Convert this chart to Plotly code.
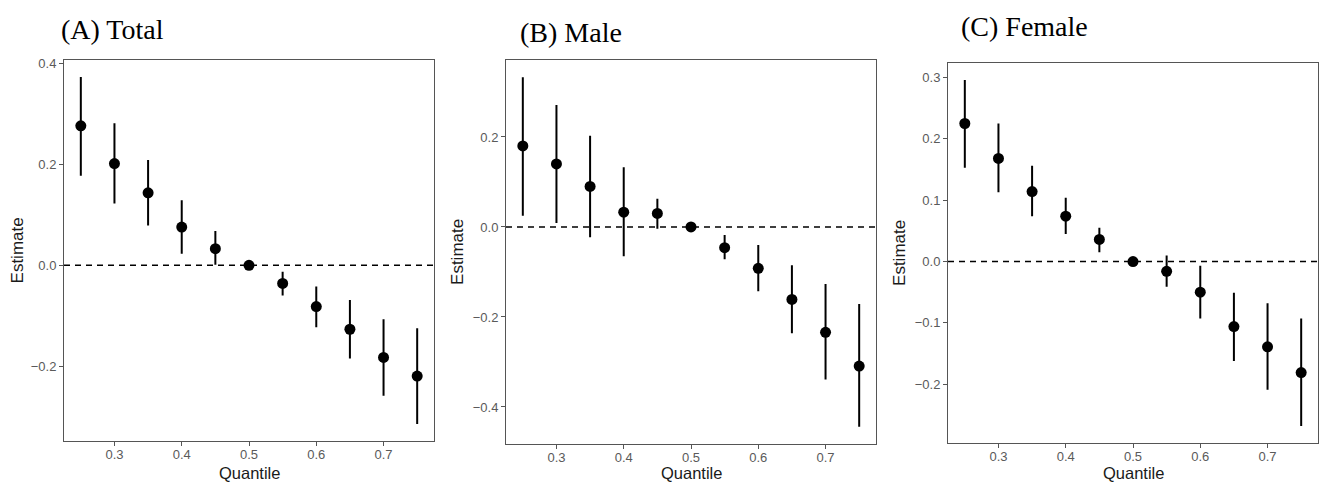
import plotly.graph_objects as go

quantiles = [0.25, 0.30, 0.35, 0.40, 0.45, 0.50, 0.55, 0.60, 0.65, 0.70, 0.75]

total_est = [0.277, 0.202, 0.144, 0.076, 0.033, 0.0, -0.036, -0.082, -0.127, -0.183, -0.220]
total_hi = [0.374, 0.282, 0.209, 0.129, 0.068, 0.0, -0.013, -0.042, -0.069, -0.107, -0.125]
total_lo = [0.178, 0.123, 0.079, 0.023, 0.001, 0.0, -0.060, -0.123, -0.185, -0.259, -0.315]

male_est = [0.180, 0.140, 0.090, 0.033, 0.030, 0.0, -0.046, -0.092, -0.161, -0.234, -0.309]
male_hi = [0.333, 0.271, 0.203, 0.133, 0.063, 0.0, -0.018, -0.040, -0.085, -0.127, -0.171]
male_lo = [0.025, 0.009, -0.023, -0.065, -0.004, 0.0, -0.072, -0.143, -0.236, -0.339, -0.444]

female_est = [0.225, 0.168, 0.114, 0.074, 0.036, 0.0, -0.016, -0.050, -0.106, -0.139, -0.181]
female_hi = [0.296, 0.225, 0.156, 0.104, 0.055, 0.0, 0.010, -0.007, -0.051, -0.068, -0.093]
female_lo = [0.153, 0.113, 0.074, 0.045, 0.015, 0.0, -0.041, -0.093, -0.162, -0.209, -0.268]

titles = ["(A) Total", "(B) Male", "(C) Female"]
y_ticks = [[-0.2, 0.0, 0.2, 0.4], [-0.4, -0.2, 0.0, 0.2], [-0.2, -0.1, 0.0, 0.1, 0.2, 0.3]]
x_ticks = [0.3, 0.4, 0.5, 0.6, 0.7]

panels = [
    (total_est, total_hi, total_lo),
    (male_est, male_hi, male_lo),
    (female_est, female_hi, female_lo),
]

W, H = 1320, 483


def px(x):
    return x / W


def py(y):
    return 1 - y / H


# plot box positions on the page in pixels (left, right, top, bottom)
boxes = [(64, 434, 57, 441), (506, 876, 57, 444), (948, 1318, 60, 443)]
title_pos = [(59, 27), (518, 30), (959, 24)]
ytitle_x = [17, 458, 900]
xtitle_y = [473, 473, 473]

SANS = "Liberation Sans, Arial"
fig = go.Figure()
layout = dict(
    width=W, height=H,
    margin=dict(l=0, r=0, t=0, b=0),
    paper_bgcolor="white", plot_bgcolor="white",
    showlegend=False,
    shapes=[], annotations=[],
)

for i, (est, hi, lo) in enumerate(panels):
    n = "" if i == 0 else str(i + 1)
    xa, ya = "x" + n, "y" + n
    plus = [h - e for h, e in zip(hi, est)]
    minus = [e - l for e, l in zip(est, lo)]
    fig.add_trace(go.Scatter(
        x=quantiles, y=est, mode="markers", xaxis=xa, yaxis=ya,
        marker=dict(size=11, color="black"),
        error_y=dict(type="data", array=plus, arrayminus=minus, symmetric=False,
                     width=0, thickness=2, color="black"),
        hoverinfo="x+y",
    ))
    l, r, t, b = boxes[i]
    lo_all = min(lo); hi_all = max(hi)
    pad = (hi_all - lo_all) * 0.05
    axis_common = dict(
        showgrid=False, zeroline=False, showline=True, mirror=True,
        linecolor="#555555", linewidth=1,
        ticks="outside", ticklen=4, tickwidth=1, tickcolor="#555555",
        tickfont=dict(family=SANS, size=13, color="#5a5a5a"),
    )
    layout["xaxis" + n] = dict(
        axis_common,
        domain=[px(l), px(r)], anchor=ya,
        range=[0.225, 0.775], tickvals=x_ticks, ticktext=[f"{v:.1f}" for v in x_ticks],
        ticklabelstandoff=-3,
    )
    layout["yaxis" + n] = dict(
        axis_common,
        domain=[py(b), py(t)], anchor=xa,
        range=[lo_all - pad, hi_all + pad], tickvals=y_ticks[i],
        ticktext=[f"{v:.1f}".replace("-", "\u2212") if v != 0 else "0.0" for v in y_ticks[i]],
    )
    layout["shapes"].append(dict(
        type="line", xref=xa + " domain", yref=ya, x0=0, x1=1, y0=0, y1=0,
        line=dict(color="black", width=1.6, dash="6px,5px"), layer="below",
    ))
    tx, ty = title_pos[i]
    layout["annotations"].append(dict(
        text=titles[i], xref="paper", yref="paper", x=px(tx), y=py(ty),
        xanchor="left", yanchor="middle", showarrow=False,
        font=dict(family="Liberation Serif, Times New Roman", size=28, color="black"),
    ))
    layout["annotations"].append(dict(
        text="Quantile", xref="paper", yref="paper", x=px((l + r) / 2), y=py(xtitle_y[i]),
        xanchor="center", yanchor="middle", showarrow=False, borderpad=0,
        font=dict(family=SANS, size=16.5, color="#1a1a1a"),
    ))
    layout["annotations"].append(dict(
        text="Estimate", xref="paper", yref="paper", x=px(ytitle_x[i]), y=py((t + b) / 2),
        xanchor="center", yanchor="middle", showarrow=False, textangle=-90,
        font=dict(family=SANS, size=17, color="#1a1a1a"),
    ))

fig.update_layout(**layout)
fig.write_html(
    "out.html",
    config={"displayModeBar": False},
    post_script="document.body.style.margin='0';document.body.style.overflow='hidden';",
)
